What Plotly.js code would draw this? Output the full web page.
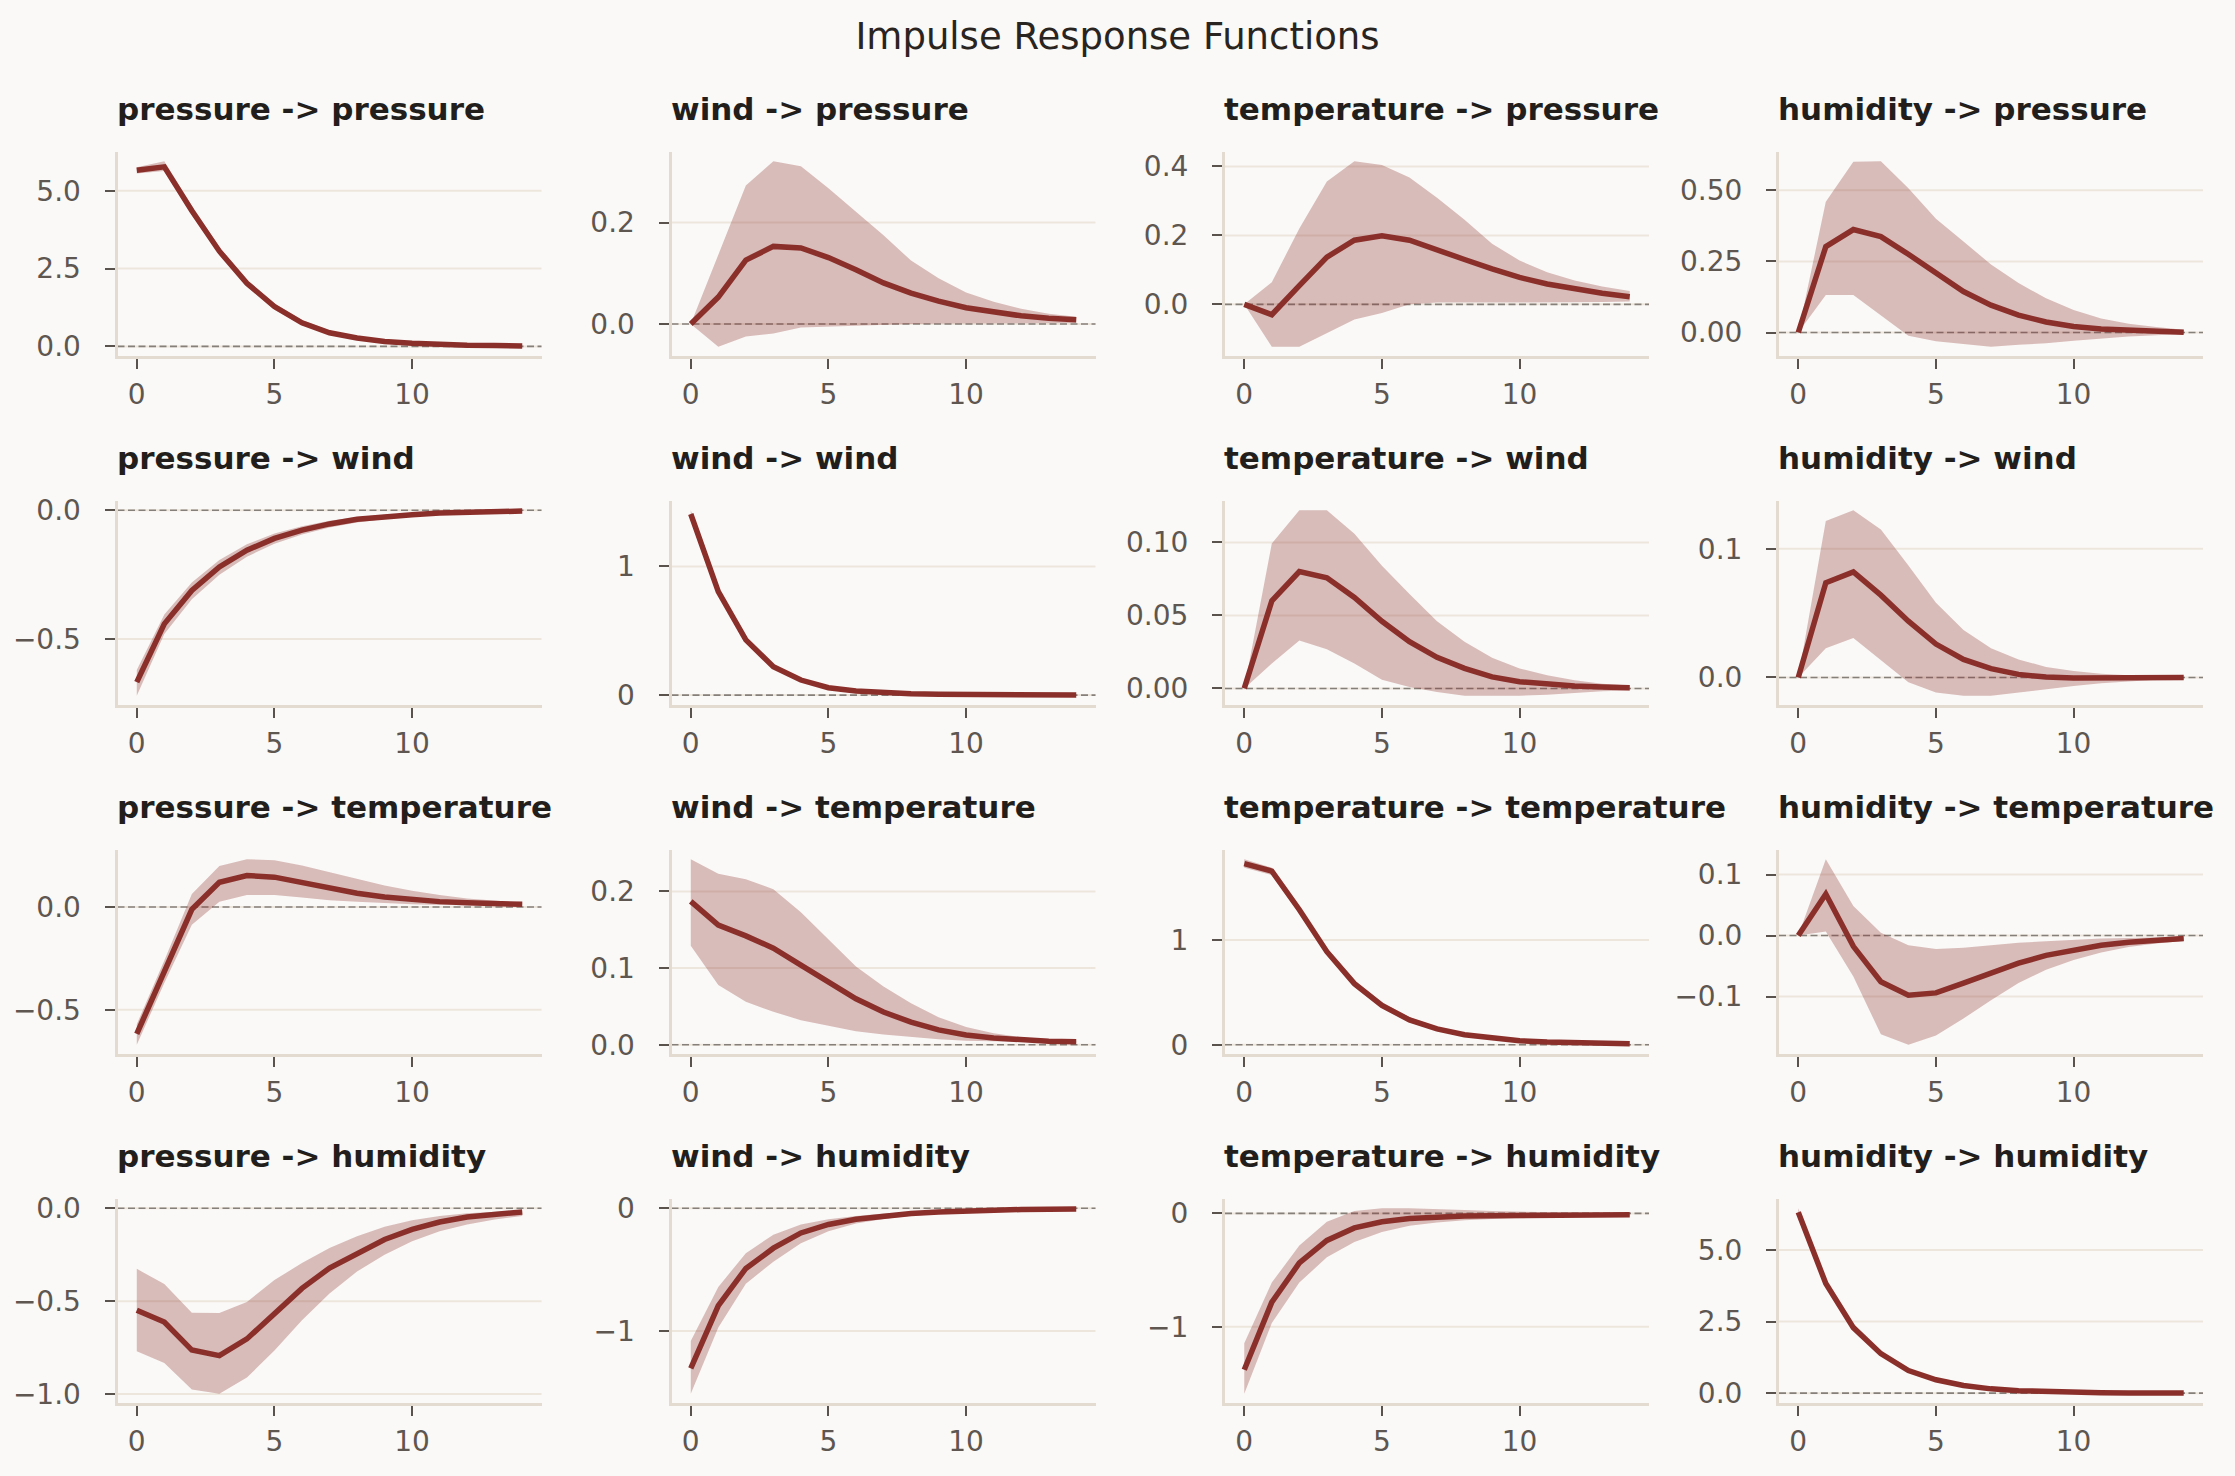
<!DOCTYPE html>
<html><head><meta charset="utf-8">
<script src="https://cdn.plot.ly/plotly-3.0.1.min.js"></script>
<style>html,body{margin:0;padding:0;background:#faf9f7;}#chart{width:2235px;height:1476px;}</style>
</head><body><div id="chart"></div>
<script>
// ---------- data ----------
const horizon = [0,1,2,3,4,5,6,7,8,9,10,11,12,13,14];
const variables = ["pressure","wind","temperature","humidity"];
const xTickVals = [0,5,10];
const xTickText = ["0","5","10"];

// impulse -> response : mid / lower / upper
// response: pressure
const mid_pressure_pressure = [5.66,5.77,4.36,3.06,2.03,1.28,0.76,0.44,0.27,0.16,0.10,0.06,0.04,0.03,0.01];
const lo_pressure_pressure  = [5.56,5.64,4.22,2.96,1.92,1.18,0.68,0.38,0.22,0.12,0.06,0.03,0.01,0.0,-0.01];
const hi_pressure_pressure  = [5.76,5.95,4.52,3.18,2.14,1.38,0.85,0.51,0.33,0.21,0.14,0.09,0.06,0.05,0.03];
const mid_wind_pressure = [0,0.053,0.126,0.153,0.150,0.131,0.107,0.081,0.061,0.045,0.032,0.023,0.016,0.011,0.008];
const lo_wind_pressure  = [0,-0.045,-0.025,-0.019,-0.007,-0.005,-0.003,-0.002,0.0,0.001,0.001,0.002,0.002,0.002,0.002];
const hi_wind_pressure  = [0,0.135,0.273,0.321,0.311,0.268,0.221,0.175,0.125,0.090,0.062,0.044,0.030,0.020,0.014];
const mid_temperature_pressure = [0,-0.03,0.054,0.137,0.186,0.199,0.186,0.16,0.13,0.103,0.078,0.059,0.044,0.032,0.022];
const lo_temperature_pressure  = [0,-0.123,-0.123,-0.083,-0.044,-0.025,0.0,0.005,0.005,0.004,0.004,0.005,0.006,0.007,0.008];
const hi_temperature_pressure  = [0,0.064,0.22,0.356,0.415,0.404,0.368,0.309,0.245,0.176,0.127,0.093,0.069,0.052,0.039];
const mid_humidity_pressure = [0,0.302,0.362,0.337,0.275,0.207,0.144,0.096,0.061,0.037,0.021,0.012,0.007,0.004,0.001];
const lo_humidity_pressure  = [0,0.132,0.132,0.061,-0.011,-0.031,-0.04,-0.05,-0.043,-0.038,-0.029,-0.021,-0.014,-0.01,-0.005];
const hi_humidity_pressure  = [0,0.46,0.60,0.602,0.507,0.40,0.32,0.239,0.174,0.12,0.079,0.049,0.031,0.019,0.01];
// response: wind
const mid_pressure_wind = [-0.667,-0.441,-0.311,-0.22,-0.155,-0.109,-0.077,-0.053,-0.035,-0.025,-0.017,-0.011,-0.007,-0.005,-0.003];
const lo_pressure_wind  = [-0.72,-0.48,-0.345,-0.25,-0.18,-0.13,-0.094,-0.067,-0.047,-0.034,-0.024,-0.016,-0.011,-0.008,-0.005];
const hi_pressure_wind  = [-0.62,-0.405,-0.28,-0.193,-0.132,-0.09,-0.062,-0.041,-0.026,-0.017,-0.011,-0.007,-0.004,-0.002,-0.001];
const mid_wind_wind = [1.408,0.805,0.429,0.221,0.117,0.057,0.031,0.018,0.010,0.006,0.004,0.002,0.001,0.001,0.0];
const lo_wind_wind  = [1.38,0.78,0.41,0.205,0.105,0.048,0.024,0.012,0.005,0.002,0.0,-0.002,-0.003,-0.004,-0.005];
const hi_wind_wind  = [1.437,0.83,0.45,0.237,0.13,0.067,0.038,0.024,0.015,0.01,0.007,0.005,0.004,0.003,0.002];
const mid_temperature_wind = [0,0.06,0.08,0.0757,0.0623,0.046,0.032,0.0213,0.0137,0.0079,0.0046,0.0028,0.0016,0.0009,0.0005];
const lo_temperature_wind  = [0,0.017,0.0329,0.0269,0.017,0.006,0.001,-0.0025,-0.005,-0.005,-0.005,-0.0044,-0.003,-0.002,-0.0014];
const hi_temperature_wind  = [0,0.0993,0.122,0.122,0.106,0.084,0.0646,0.046,0.032,0.021,0.0137,0.009,0.0056,0.0032,0.002];
const mid_humidity_wind = [0,0.0736,0.082,0.064,0.0438,0.026,0.014,0.0069,0.0024,0.0003,-0.0005,-0.0005,-0.0005,-0.0003,0];
const lo_humidity_wind  = [0,0.0227,0.0306,0.0135,-0.0037,-0.0116,-0.0142,-0.0142,-0.0116,-0.0092,-0.0066,-0.0045,-0.003,-0.0018,-0.001];
const hi_humidity_wind  = [0,0.1216,0.13,0.115,0.087,0.058,0.037,0.0227,0.014,0.0082,0.005,0.0029,0.0017,0.001,0.0005];
// response: temperature
const mid_pressure_temperature = [-0.617,-0.308,-0.0115,0.12,0.153,0.145,0.12,0.092,0.067,0.049,0.036,0.026,0.02,0.016,0.013];
const lo_pressure_temperature  = [-0.67,-0.37,-0.086,0.025,0.058,0.058,0.046,0.033,0.025,0.018,0.013,0.01,0.008,0.007,0.006];
const hi_pressure_temperature  = [-0.57,-0.26,0.0625,0.199,0.232,0.227,0.202,0.17,0.137,0.104,0.079,0.058,0.041,0.03,0.021];
const mid_wind_temperature = [0.187,0.156,0.142,0.126,0.104,0.082,0.06,0.0427,0.0295,0.0194,0.0128,0.0088,0.006,0.0044,0.004];
const lo_wind_temperature  = [0.129,0.078,0.056,0.043,0.032,0.025,0.0176,0.0132,0.0097,0.007,0.0053,0.0044,0.0035,0.003,0.0026];
const hi_wind_temperature  = [0.242,0.223,0.216,0.203,0.173,0.137,0.102,0.076,0.054,0.036,0.023,0.015,0.0097,0.0066,0.0053];
const mid_temperature_temperature = [1.728,1.657,1.288,0.888,0.583,0.375,0.237,0.151,0.096,0.061,0.038,0.026,0.019,0.013,0.01];
const lo_temperature_temperature  = [1.69,1.62,1.255,0.855,0.552,0.348,0.214,0.132,0.081,0.049,0.028,0.017,0.011,0.006,0.004];
const hi_temperature_temperature  = [1.77,1.69,1.32,0.92,0.615,0.405,0.262,0.172,0.113,0.074,0.049,0.034,0.025,0.018,0.014];
const mid_humidity_temperature = [0,0.068,-0.0177,-0.0757,-0.0978,-0.094,-0.078,-0.061,-0.0453,-0.0326,-0.0232,-0.016,-0.011,-0.0077,-0.005];
const lo_humidity_temperature  = [0,0.0066,-0.067,-0.162,-0.179,-0.164,-0.136,-0.106,-0.078,-0.056,-0.04,-0.028,-0.019,-0.013,-0.009];
const hi_humidity_temperature  = [0,0.125,0.0486,0.0044,-0.016,-0.022,-0.02,-0.016,-0.012,-0.0094,-0.0066,-0.005,-0.004,-0.003,-0.002];
// response: humidity
const mid_pressure_humidity = [-0.549,-0.612,-0.763,-0.793,-0.703,-0.567,-0.431,-0.322,-0.241,-0.168,-0.114,-0.074,-0.047,-0.033,-0.02];
const lo_pressure_humidity  = [-0.77,-0.833,-0.975,-0.998,-0.911,-0.766,-0.603,-0.458,-0.34,-0.25,-0.178,-0.123,-0.087,-0.06,-0.042];
const hi_pressure_humidity  = [-0.326,-0.408,-0.562,-0.563,-0.504,-0.386,-0.295,-0.214,-0.15,-0.1,-0.065,-0.042,-0.027,-0.018,-0.011];
const mid_wind_humidity = [-1.303,-0.793,-0.49,-0.325,-0.201,-0.132,-0.09,-0.062,-0.043,-0.03,-0.02,-0.014,-0.01,-0.007,-0.005];
const lo_wind_humidity  = [-1.51,-0.97,-0.614,-0.435,-0.284,-0.187,-0.124,-0.087,-0.06,-0.045,-0.034,-0.024,-0.017,-0.011,-0.008];
const hi_wind_humidity  = [-1.08,-0.64,-0.366,-0.215,-0.132,-0.09,-0.063,-0.043,-0.03,-0.02,-0.013,-0.009,-0.006,-0.004,-0.003];
const mid_temperature_humidity = [-1.378,-0.783,-0.4375,-0.238,-0.128,-0.074,-0.045,-0.03,-0.024,-0.02,-0.017,-0.015,-0.013,-0.012,-0.012];
const lo_temperature_humidity  = [-1.59,-0.967,-0.61,-0.387,-0.253,-0.164,-0.11,-0.08,-0.06,-0.048,-0.039,-0.033,-0.027,-0.024,-0.024];
const hi_temperature_humidity  = [-1.146,-0.61,-0.283,-0.074,0.02,0.045,0.045,0.039,0.03,0.02,0.015,0.01,0.005,0.002,0.0];
const mid_humidity_humidity = [6.32,3.83,2.29,1.38,0.79,0.467,0.27,0.15,0.085,0.05,0.028,0.016,0.009,0.005,0.003];
const lo_humidity_humidity  = [6.20,3.73,2.21,1.32,0.74,0.43,0.24,0.128,0.069,0.038,0.019,0.01,0.005,0.002,-0.02];
const hi_humidity_humidity  = [6.46,3.93,2.37,1.44,0.84,0.505,0.30,0.172,0.101,0.062,0.037,0.022,0.013,0.008,0.005];

// y tick values / labels, row by row (response), column by column (impulse)
const yTickVals = [
  [[0,2.5,5],[0,0.2],[0,0.2,0.4],[0,0.25,0.5]],
  [[-0.5,0],[0,1],[0,0.05,0.1],[0,0.1]],
  [[-0.5,0],[0,0.1,0.2],[0,1],[-0.1,0,0.1]],
  [[-1,-0.5,0],[-1,0],[-1,0],[0,2.5,5]]
];
const yTickText = [
  [["0.0","2.5","5.0"],["0.0","0.2"],["0.0","0.2","0.4"],["0.00","0.25","0.50"]],
  [["\u22120.5","0.0"],["0","1"],["0.00","0.05","0.10"],["0.0","0.1"]],
  [["\u22120.5","0.0"],["0.0","0.1","0.2"],["0","1"],["\u22120.1","0.0","0.1"]],
  [["\u22121.0","\u22120.5","0.0"],["\u22121","0"],["\u22121","0"],["0.0","2.5","5.0"]]
];

const series = {
  pressure_pressure:[mid_pressure_pressure,lo_pressure_pressure,hi_pressure_pressure],
  wind_pressure:[mid_wind_pressure,lo_wind_pressure,hi_wind_pressure],
  temperature_pressure:[mid_temperature_pressure,lo_temperature_pressure,hi_temperature_pressure],
  humidity_pressure:[mid_humidity_pressure,lo_humidity_pressure,hi_humidity_pressure],
  pressure_wind:[mid_pressure_wind,lo_pressure_wind,hi_pressure_wind],
  wind_wind:[mid_wind_wind,lo_wind_wind,hi_wind_wind],
  temperature_wind:[mid_temperature_wind,lo_temperature_wind,hi_temperature_wind],
  humidity_wind:[mid_humidity_wind,lo_humidity_wind,hi_humidity_wind],
  pressure_temperature:[mid_pressure_temperature,lo_pressure_temperature,hi_pressure_temperature],
  wind_temperature:[mid_wind_temperature,lo_wind_temperature,hi_wind_temperature],
  temperature_temperature:[mid_temperature_temperature,lo_temperature_temperature,hi_temperature_temperature],
  humidity_temperature:[mid_humidity_temperature,lo_humidity_temperature,hi_humidity_temperature],
  pressure_humidity:[mid_pressure_humidity,lo_pressure_humidity,hi_pressure_humidity],
  wind_humidity:[mid_wind_humidity,lo_wind_humidity,hi_wind_humidity],
  temperature_humidity:[mid_temperature_humidity,lo_temperature_humidity,hi_temperature_humidity],
  humidity_humidity:[mid_humidity_humidity,lo_humidity_humidity,hi_humidity_humidity]
};

// ---------- layout geometry (px) ----------
const W = 2235, H = 1476;
const colLeft = [117.5, 671.5, 1225, 1779];
const axW = 424;
const rowTop = [152, 501, 850, 1199];
const axH = 204;

const LINE = '#8b2f2b';
const BAND = 'rgba(139,47,43,0.30)';
const BG = '#faf9f7';
const GRID = '#ede6dd';

const data = [];
const layout = {
  width: W, height: H, autosize: false,
  margin: {l:0, r:0, t:0, b:0},
  paper_bgcolor: BG, plot_bgcolor: BG,
  showlegend: false,
  title: {text: 'Impulse Response Functions', x: 0.5, xanchor: 'center',
          y: 1 - 36/H, yref: 'container', yanchor: 'middle',
          font: {family: 'DejaVu Sans', size: 37, color: '#2a2421'}},
  annotations: [], shapes: []
};

let k = 0;
for (let r = 0; r < 4; r++) {
  for (let c = 0; c < 4; c++) {
    k++;
    const xa = k === 1 ? 'x' : 'x' + k;
    const ya = k === 1 ? 'y' : 'y' + k;
    const key = variables[c] + '_' + variables[r];
    const [mid, lo, hi] = series[key];

    data.push({x: horizon, y: lo, xaxis: xa, yaxis: ya, type: 'scatter', mode: 'lines',
               line: {width: 0, color: 'rgba(0,0,0,0)'}, hoverinfo: 'skip'});
    data.push({x: horizon, y: hi, xaxis: xa, yaxis: ya, type: 'scatter', mode: 'lines',
               line: {width: 0, color: 'rgba(0,0,0,0)'}, fill: 'tonexty', fillcolor: BAND, hoverinfo: 'skip'});
    data.push({x: horizon, y: mid, xaxis: xa, yaxis: ya, type: 'scatter', mode: 'lines',
               line: {width: 5.5, color: LINE}});

    const all = mid.concat(lo, hi, [0]);
    const mn = Math.min(...all), mx = Math.max(...all);
    const pad = (mx - mn) * 0.05;

    const x0 = colLeft[c] / W, x1 = (colLeft[c] + axW) / W;
    const y1 = (H - rowTop[r]) / H, y0 = (H - rowTop[r] - axH) / H;

    const common = {
      showline: true, linecolor: '#e3dbd0', linewidth: 3,
      ticks: 'outside', ticklen: 10, tickwidth: 2, tickcolor: '#5a524d',
      tickfont: {family: 'DejaVu Sans', size: 28, color: '#5e5650'},
      zeroline: false, fixedrange: true, showgrid: false
    };
    layout['xaxis' + (k === 1 ? '' : k)] = Object.assign({}, common, {
      domain: [x0, x1], anchor: ya, range: [-0.7, 14.7], ticklabelstandoff: 1,
      tickmode: 'array', tickvals: xTickVals, ticktext: xTickText
    });
    layout['yaxis' + (k === 1 ? '' : k)] = Object.assign({}, common, {
      domain: [y0, y1], anchor: xa, range: [mn - pad, mx + pad], ticklabelstandoff: 18,
      tickmode: 'array', tickvals: yTickVals[r][c], ticktext: yTickText[r][c]
    });

    // horizontal grid lines at the y ticks (drawn under the traces)
    yTickVals[r][c].forEach(function (tv) {
      layout.shapes.push({type: 'line', layer: 'below',
        xref: xa + ' domain', x0: 0, x1: 1, yref: ya, y0: tv, y1: tv,
        line: {color: GRID, width: 2}});
    });
    // dashed zero reference line
    layout.shapes.push({type: 'line', layer: 'below',
      xref: xa + ' domain', x0: 0, x1: 1, yref: ya, y0: 0, y1: 0,
      line: {color: '#86807b', width: 1.6, dash: '7px,3.5px'}});

    layout.annotations.push({text: '<b>' + variables[c] + ' -&gt; ' + variables[r] + '</b>',
      xref: 'paper', yref: 'paper', x: colLeft[c] / W, xanchor: 'left', xshift: -3,
      y: (H - (rowTop[r] - 43)) / H, yanchor: 'middle', showarrow: false,
      font: {family: 'DejaVu Sans', size: 31, color: '#221e1b'}});
  }
}

Plotly.newPlot('chart', data, layout, {displayModeBar: false, staticPlot: true});
</script></body></html>
